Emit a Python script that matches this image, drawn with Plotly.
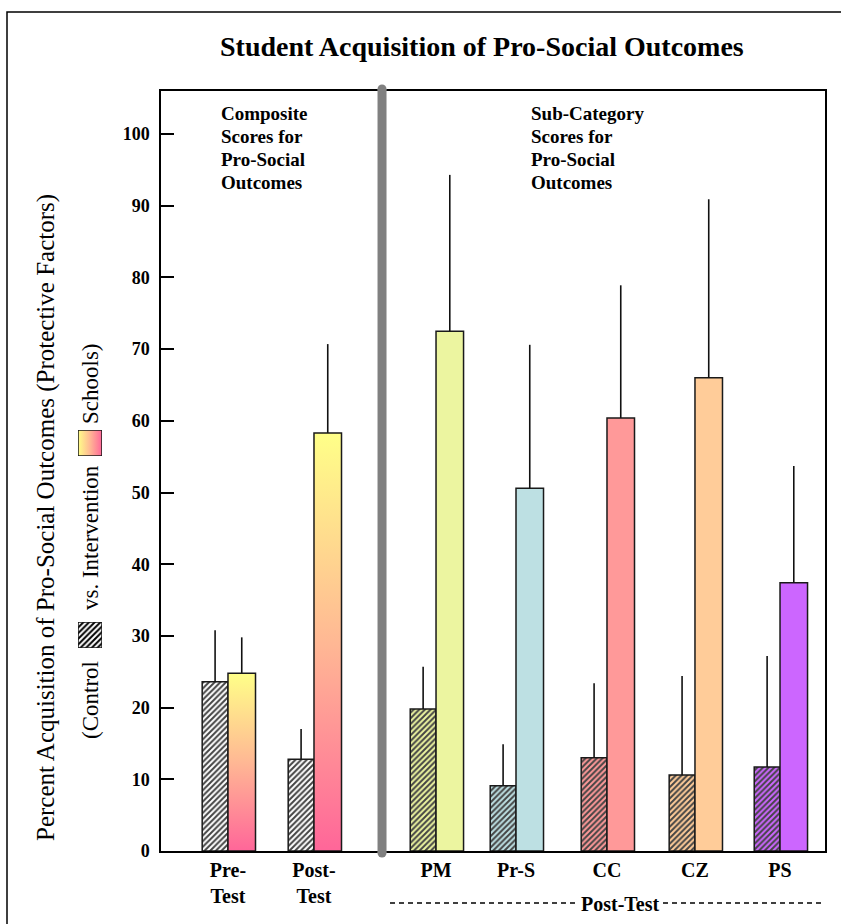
import plotly.graph_objects as go

# ---------------- data ----------------
categories = ["Pre-<br>Test", "Post-<br>Test", "PM", "Pr-S", "CC", "CZ", "PS"]
control = [23.6, 12.8, 19.8, 9.1, 13.0, 10.6, 11.7]
control_err = [7.2, 4.2, 5.9, 5.8, 10.4, 13.8, 15.5]
intervention = [24.8, 58.3, 72.5, 50.6, 60.4, 66.0, 37.4]
intervention_err = [5.0, 12.4, 21.8, 20.0, 18.5, 24.9, 16.3]
is_composite = [True, True, False, False, False, False, False]
left_note = ["Composite", "Scores for", "Pro-Social", "Outcomes"]
right_note = ["Sub-Category", "Scores for", "Pro-Social", "Outcomes"]

# ---------------- layout / style ----------------
W, H = 841, 924
slot_x = [0, 1.0, 2.419, 3.349, 4.407, 5.430, 6.419]
divider_x = 1.791
x_range = [-0.779, 6.942]
y_range = [0, 106]
bw_c, bw_i = 0.30, 0.32
sub_colors = ["#ffffff", "#ffffff", "#ecf5a0", "#bde0e3", "#ff9999", "#ffcc99", "#cc66ff"]
grad_scale = [[0, "#ff6699"], [0.5, "#ffb894"], [1, "#ffff88"]]
FONT = "Liberation Serif"
EDGE = "#1a1a1a"
HATCH = dict(shape="/", fillmode="overlay", fgcolor="#000000", fgopacity=1,
             size=4, solidity=0.5)

def fx(p):
    return p / W

def fy(p):
    return 1 - p / H

fig = go.Figure()

# gradient composite intervention bars (filled shapes on data axes)
for i, comp in enumerate(is_composite):
    if comp:
        x0 = slot_x[i]
        x1 = slot_x[i] + bw_i
        v = intervention[i]
        fig.add_trace(go.Scatter(
            x=[x0, x0, x1, x1, x0], y=[0, v, v, 0, 0],
            mode="lines", fill="toself",
            fillgradient=dict(type="vertical", colorscale=grad_scale, start=0, stop=v),
            line=dict(color=EDGE, width=1.5),
            hoverinfo="skip", showlegend=False))

# control bars (hatched)
fig.add_trace(go.Bar(
    x=slot_x, y=control, width=bw_c, offset=-bw_c,
    marker=dict(color=sub_colors, line=dict(color=EDGE, width=1.5), pattern=HATCH),
    error_y=dict(type="data", symmetric=False, array=control_err,
                 arrayminus=[0] * len(control), width=0, thickness=1.6, color="#111111"),
    showlegend=False, name="Control"))

# intervention bars
int_colors = ["rgba(0,0,0,0)" if c else sub_colors[i] for i, c in enumerate(is_composite)]
int_lw = [0 if c else 1.5 for c in is_composite]
fig.add_trace(go.Bar(
    x=slot_x, y=intervention, width=bw_i, offset=0,
    marker=dict(color=int_colors, line=dict(color=EDGE, width=int_lw)),
    error_y=dict(type="data", symmetric=False, array=intervention_err,
                 arrayminus=[0] * len(intervention), width=0, thickness=1.6, color="#111111"),
    showlegend=False, name="Intervention"))

# legend swatches inside y title
fig.add_trace(go.Bar(
    x=[0], y=[1], width=1, xaxis="x2", yaxis="y2",
    marker=dict(color="#ffffff", line=dict(color=EDGE, width=1.5), pattern=HATCH),
    showlegend=False, hoverinfo="skip"))
fig.add_trace(go.Scatter(
    x=[0, 0, 1, 1, 0], y=[0, 1, 1, 0, 0], xaxis="x3", yaxis="y3",
    mode="lines", fill="toself",
    fillgradient=dict(type="horizontal", colorscale=[[0, "#ffff88"], [0.5, "#ffb894"], [1, "#ff6699"]]),
    line=dict(color=EDGE, width=1.5), showlegend=False, hoverinfo="skip"))

hidden = dict(visible=False, fixedrange=True)

fig.update_layout(
    width=W, height=H,
    margin=dict(l=0, r=0, t=0, b=0),
    paper_bgcolor="white", plot_bgcolor="white",
    barmode="overlay",
    font=dict(family=FONT, color="black"),
    xaxis=dict(domain=[fx(161), fx(825)], range=x_range,
               tickvals=slot_x, ticktext=categories, ticks="",
               tickfont=dict(family=FONT, size=20, weight="bold"),
               showline=True, mirror=True, linecolor="black", linewidth=1.5,
               showgrid=False, zeroline=False, automargin=False),
    yaxis=dict(domain=[fy(851), fy(91)], range=y_range,
               tickvals=list(range(0, 101, 10)), ticks="inside", ticklen=13,
               tickwidth=1.5, tickcolor="black",
               tickfont=dict(family=FONT, size=18, weight="bold"),
               ticklabelstandoff=6,
               showline=True, mirror=True, linecolor="black", linewidth=1.5,
               showgrid=False, zeroline=False, automargin=False),
    xaxis2=dict(domain=[fx(78), fx(102)], range=[-0.5, 0.5], anchor="y2", **hidden),
    yaxis2=dict(domain=[fy(648), fy(622)], range=[0, 1], anchor="x2", **hidden),
    xaxis3=dict(domain=[fx(78), fx(102)], range=[0, 1], anchor="y3", **hidden),
    yaxis3=dict(domain=[fy(456), fy(430)], range=[0, 1], anchor="x3", **hidden),
)

# divider with rounded ends
fig.add_shape(type="line", xref="x", yref="paper", x0=divider_x, x1=divider_x,
              y0=fy(853), y1=fy(89), line=dict(color="#808080", width=9), layer="above")
for yy in (853, 89):
    fig.add_shape(type="circle", xref="x", yref="paper", xsizemode="pixel", ysizemode="pixel",
                  xanchor=divider_x, yanchor=fy(yy), x0=-4.5, x1=4.5, y0=-4.5, y1=4.5,
                  fillcolor="#808080", line=dict(width=0), layer="above")

# outer frame
fig.add_shape(type="rect", xref="paper", yref="paper", x0=fx(7), x1=1.02, y0=-0.02, y1=fy(12),
              line=dict(color="black", width=1.5))

# post-test dashed brackets
for a, b in ((390, 575), (663, 825)):
    fig.add_shape(type="line", xref="paper", yref="paper", x0=fx(a), x1=fx(b),
                  y0=fy(903), y1=fy(903), line=dict(color="black", width=1.3, dash="5px,4px"))

ann = []
ann.append(dict(text="Student Acquisition of Pro-Social Outcomes", x=fx(482), y=fy(47),
                font=dict(size=28, weight="bold")))
for k, (lt, rt) in enumerate(zip(left_note, right_note)):
    yy = 113 + 23.3 * k
    ann.append(dict(text=lt, x=fx(219), y=fy(yy), xanchor="left", font=dict(size=19, weight="bold")))
    ann.append(dict(text=rt, x=fx(529), y=fy(yy), xanchor="left", font=dict(size=19, weight="bold")))
ann.append(dict(text="Post-Test", x=fx(620), y=fy(904), font=dict(size=20, weight="bold")))
ann.append(dict(text="Percent Acquisition of Pro-Social Outcomes (Protective Factors)",
                x=fx(46), y=fy(518), textangle=-90, font=dict(size=25)))
ann.append(dict(text="Schools)", x=fx(90), y=fy(384), textangle=-90, font=dict(size=23)))
ann.append(dict(text="vs. Intervention", x=fx(90), y=fy(538), textangle=-90, font=dict(size=23)))
ann.append(dict(text="(Control", x=fx(90), y=fy(700), textangle=-90, font=dict(size=23)))
for a in ann:
    a.setdefault("xanchor", "center")
    a.setdefault("yanchor", "middle")
    a.update(xref="paper", yref="paper", showarrow=False)
    a["font"].setdefault("family", FONT)
    a["font"].setdefault("color", "black")
fig.update_layout(annotations=ann)

fig.write_html("out.html", config={"displayModeBar": False},
               post_script="document.body.style.margin='0';document.body.style.padding='0';")
